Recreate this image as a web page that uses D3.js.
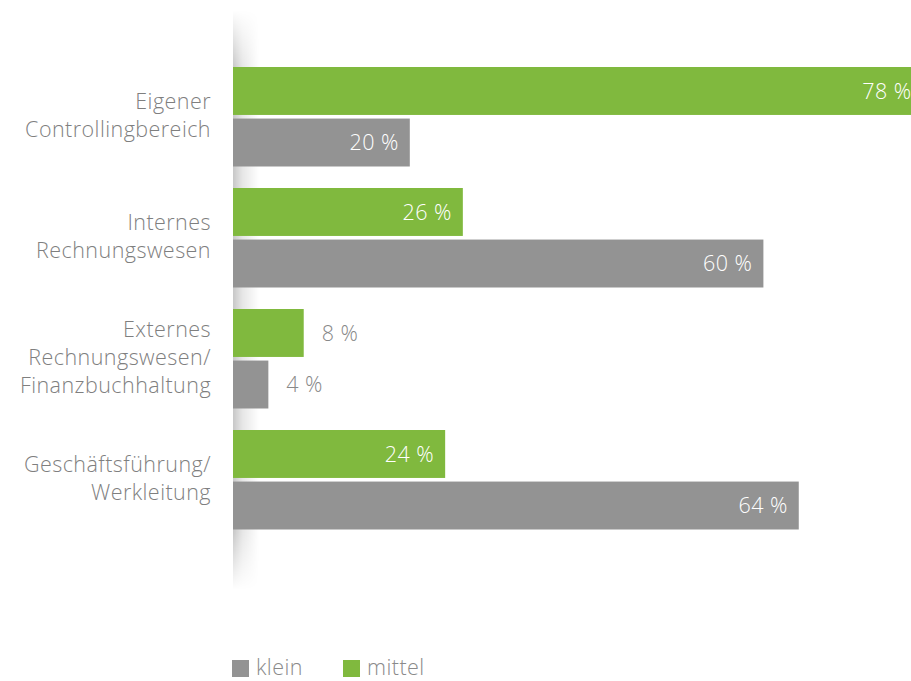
<!DOCTYPE html>
<html>
<head>
<meta charset="utf-8">
<script src="https://cdn.jsdelivr.net/npm/d3@7"></script>
<style>
  html, body { margin: 0; padding: 0; background: #fff; }
  svg { display: block; font-family: "Open Sans", sans-serif; }
</style>
</head>
<body>
<svg id="chart" width="911" height="681"></svg>
<script>
// Categories (each may span several lines)
const categories = [
  ["Eigener", "Controllingbereich"],
  ["Internes", "Rechnungswesen"],
  ["Externes", "Rechnungswesen/", "Finanzbuchhaltung"],
  ["Geschäftsführung/", "Werkleitung"]
];
const mittel = [78, 26, 8, 24];
const klein = [20, 60, 4, 64];
const seriesNames = ["klein", "mittel"];
const colors = { klein: "#939393", mittel: "#80b93e" };

const svg = d3.select("#chart");
const W = 911, H = 681;
const FONT = 21.5, SPACING = "0.45px";

const x = d3.scaleLinear().domain([0, 100]).range([233, 1117]);
const y = d3.scaleBand().domain(d3.range(categories.length)).range([67, 551]).paddingInner(0).paddingOuter(0);
const sub = d3.scaleBand().domain(["mittel", "klein"]).range([0, 99.5]).paddingInner(0.07);

// soft shadow along the baseline
const defs = svg.append("defs");
const hg = defs.append("linearGradient").attr("id", "shadowH").attr("x1", 0).attr("x2", 1).attr("y1", 0).attr("y2", 0);
hg.append("stop").attr("offset", 0).attr("stop-color", "#000").attr("stop-opacity", 0.22);
hg.append("stop").attr("offset", 0.35).attr("stop-color", "#000").attr("stop-opacity", 0.1);
hg.append("stop").attr("offset", 1).attr("stop-color", "#000").attr("stop-opacity", 0);
const vg = defs.append("linearGradient").attr("id", "shadowV").attr("x1", 0).attr("x2", 0).attr("y1", 0).attr("y2", 1);
vg.append("stop").attr("offset", 0).attr("stop-color", "#fff").attr("stop-opacity", 0);
vg.append("stop").attr("offset", 0.1).attr("stop-color", "#fff").attr("stop-opacity", 1);
vg.append("stop").attr("offset", 0.9).attr("stop-color", "#fff").attr("stop-opacity", 1);
vg.append("stop").attr("offset", 1).attr("stop-color", "#fff").attr("stop-opacity", 0);
const mask = defs.append("mask").attr("id", "shadowMask").attr("maskUnits", "userSpaceOnUse")
  .attr("x", 0).attr("y", 0).attr("width", W).attr("height", H);
mask.append("rect").attr("x", x(0)).attr("y", 10).attr("width", 26).attr("height", 580).attr("fill", "url(#shadowV)");
svg.append("rect")
  .attr("x", x(0)).attr("y", 10).attr("width", 26).attr("height", 580)
  .attr("fill", "url(#shadowH)").attr("mask", "url(#shadowMask)");

// rows
const rows = categories.map((c, i) => ({ i, lines: c, mittel: mittel[i], klein: klein[i] }));
const g = svg.selectAll("g.row").data(rows).join("g").attr("class", "row")
  .attr("transform", d => `translate(0,${y(d.i)})`);

["mittel", "klein"].forEach(key => {
  g.append("rect")
    .attr("x", x(0))
    .attr("y", sub(key))
    .attr("width", d => x(d[key]) - x(0))
    .attr("height", sub.bandwidth())
    .attr("fill", colors[key]);

  g.append("text")
    .attr("y", sub(key) + sub.bandwidth() / 2)
    .attr("dy", "0.36em")
    .attr("font-size", FONT)
    .attr("font-weight", 300)
    .attr("letter-spacing", SPACING)
    .each(function(d) {
      const v = d[key];
      const wBar = x(v) - x(0);
      const inside = wBar > 90;
      d3.select(this)
        .attr("x", inside ? x(v) - 11 : x(v) + 18)
        .attr("text-anchor", inside ? "end" : "start")
        .attr("fill", inside ? "#ffffff" : "#888888")
        .text(v + " %");
    });
});

// category labels
g.append("text")
  .attr("text-anchor", "end")
  .attr("font-size", FONT)
  .attr("font-weight", 300)
  .attr("letter-spacing", SPACING)
  .attr("fill", "#7f7f7f")
  .each(function(d) {
    const n = d.lines.length;
    const cy = (sub("mittel") + sub("klein") + sub.bandwidth()) / 2;
    d3.select(this).selectAll("tspan").data(d.lines).join("tspan")
      .attr("x", 211)
      .attr("y", (l, k) => cy + 6 + (k - (n - 1) / 2) * 28)
      .text(l => l);
  });

// legend
const legendX = d3.scalePoint().domain(seriesNames).range([232, 343]);
const lg = svg.selectAll("g.legend").data(seriesNames).join("g").attr("class", "legend")
  .attr("transform", d => `translate(${legendX(d)},660)`);
lg.append("rect").attr("width", 17).attr("height", 17).attr("fill", d => colors[d]);
lg.append("text").attr("x", 24).attr("y", 15)
  .attr("font-size", FONT).attr("font-weight", 300).attr("letter-spacing", SPACING).attr("fill", "#8a8a8a")
  .text(d => d);
</script>
</body>
</html>
